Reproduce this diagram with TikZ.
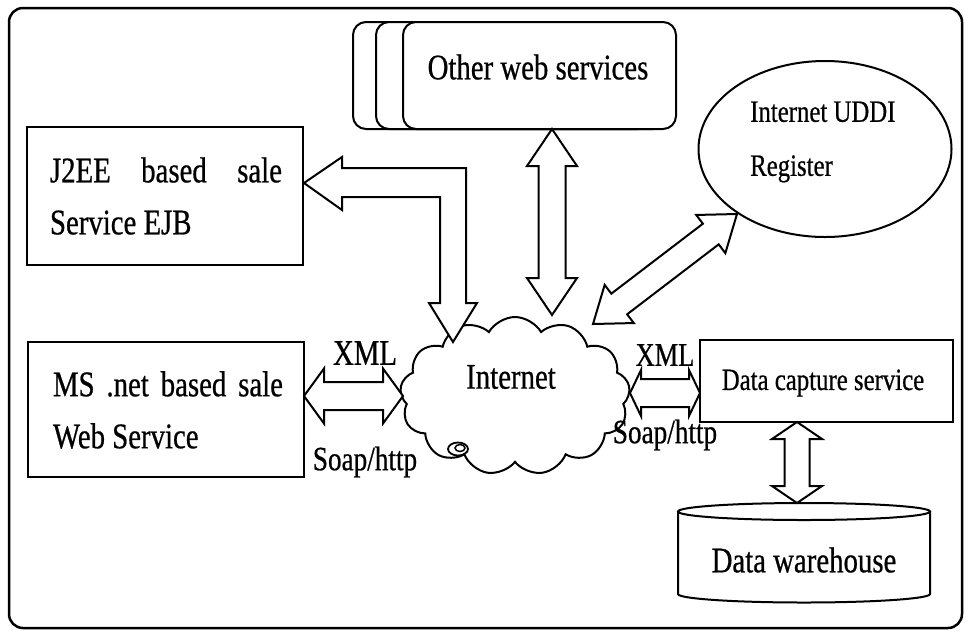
\documentclass[tikz,border=0pt]{standalone}
\usepackage{fontspec}
\setmainfont{Liberation Serif}[FakeStretch=0.8,FakeBold=0.6]
\usetikzlibrary{shapes.geometric,shapes.symbols,calc}

\tikzset{
  box/.style={draw, line width=2pt, fill=white},
  rbox/.style={box, rounded corners=13pt},
  txt/.style={inner sep=0pt, font=\fontsize{36}{52}\selectfont},
  smalltxt/.style={inner sep=0pt, font=\fontsize{31}{54}\selectfont},
  blockarrow/.style={draw, line width=2pt, fill=white, line join=miter},
}

% double-headed block arrow: from, to, shaft half-width, head half-width, head length
\newcommand\dblarrow[5]{%
  \draw[blockarrow] (#1)
    -- ($(#1)!#5!(#2)!#4!90:(#2)$)
    -- ($(#1)!#5!(#2)!#3!90:(#2)$)
    -- ($(#2)!#5!(#1)!#3!-90:(#1)$)
    -- ($(#2)!#5!(#1)!#4!-90:(#1)$)
    -- (#2)
    -- ($(#2)!#5!(#1)!#4!90:(#1)$)
    -- ($(#2)!#5!(#1)!#3!90:(#1)$)
    -- ($(#1)!#5!(#2)!#3!-90:(#2)$)
    -- ($(#1)!#5!(#2)!#4!-90:(#2)$)
    -- cycle;}

\begin{document}
\begin{tikzpicture}[x=1pt,y=-1pt]
\useasboundingbox (0,0) rectangle (969,633);

% outer frame
\draw[line width=2.5pt, rounded corners=14pt] (9,8) rectangle (962,628);

% stack of other web services
\node[rbox, minimum width=298pt, minimum height=107pt, anchor=north west] (other3) at (352,21) {};
\node[rbox, minimum width=290pt, minimum height=107pt, anchor=north west] (other2) at (375,21) {};
\node[rbox, minimum width=273pt, minimum height=107pt, anchor=north west] (other) at (402,21) {};
\node[txt] (othertxt) at (538,67) {Other web services};

% J2EE service
\node[box, minimum width=276pt, minimum height=138pt] (j2ee) at (165,196) {};
\node[txt, align=left] (j2eetxt) at (166,196) {\makebox[232pt][s]{J2EE based sale}\\Service EJB};

% .NET service
\node[box, minimum width=276pt, minimum height=135pt] (ms) at (166,409.5) {};
\node[txt, align=left] (mstxt) at (168,410) {\makebox[230pt][s]{MS .net based sale}\\Web Service};

% data capture service
\node[box, minimum width=253pt, minimum height=82pt] (dcs) at (826.5,381) {};
\node[smalltxt] (dcstxt) at (823,383) {Data capture service};

% UDDI registry
\node[draw, ellipse, line width=2pt, minimum width=253pt, minimum height=176pt] (uddi) at (825,149) {};
\node[smalltxt, align=left, anchor=west] (udditxt) at (750,142) {Internet UDDI\\Register};

% data warehouse cylinder
\draw[line width=2pt, fill=white] (678,511.5) -- (678,594)
  arc[start angle=180, end angle=360, x radius=126pt, y radius=8.5pt] -- (930,511.5);
\draw[line width=2pt] (804,511.5) ellipse[x radius=126pt, y radius=8.5pt];
\node[txt] (dw) at (804,560) {Data warehouse};

% internet cloud
\node[cloud, draw, line width=2pt, cloud puffs=13, cloud puff arc=120, aspect=1.45,
      minimum width=230pt, minimum height=158pt] (cloud) at (515,396) {};
\draw[line width=1.8pt] (458,449) ellipse[x radius=10pt, y radius=6.5pt];
\draw[line width=1.5pt] (460,448) ellipse[x radius=5pt, y radius=3.5pt];
\node[txt] (inettxt) at (511,377) {Internet};

% connector end points
\coordinate (msR) at (304,396);   \coordinate (clL) at (403,396);
\coordinate (clR) at (630,393);   \coordinate (dcsL) at (700,393);
\coordinate (othB) at (552,129);  \coordinate (clT) at (552,315);
\coordinate (clNE) at (593,324);  \coordinate (uddiSW) at (737,214);
\coordinate (dcsB) at (797,422);  \coordinate (dwtop) at (797,503);
\coordinate (ejbtip) at (304,183); \coordinate (clNW) at (453,342);

% block arrows
\dblarrow{msR}{clL}{14pt}{27.5pt}{20pt}
\dblarrow{clR}{dcsL}{14pt}{23pt}{11pt}
\dblarrow{othB}{clT}{13.5pt}{25pt}{37pt}
\dblarrow{clNE}{uddiSW}{13pt}{24pt}{33pt}
\dblarrow{dcsB}{dwtop}{12.5pt}{25pt}{17pt}

% bent arrow between the J2EE service and the cloud
\draw[blockarrow] (ejbtip) -- ++(38,-26) -- ++(0,11) -- ++(124,0) -- ++(0,135)
  -- ++(11,0) -- (clNW) -- ++(-24,-39) -- ++(11,0) -- ++(0,-106) -- ++(-98,0)
  -- ++(0,13) -- cycle;

% protocol labels
\node[txt] (xmlL) at (365,353) {XML};
\node[txt, font=\fontsize{34}{40}\selectfont] (soapL) at (365,462) {Soap/http};
\node[txt, font=\fontsize{33}{40}\selectfont] (xmlR) at (665,355) {XML};
\node[txt, font=\fontsize{34}{40}\selectfont] (soapR) at (665,435) {Soap/http};
\end{tikzpicture}
\end{document}
